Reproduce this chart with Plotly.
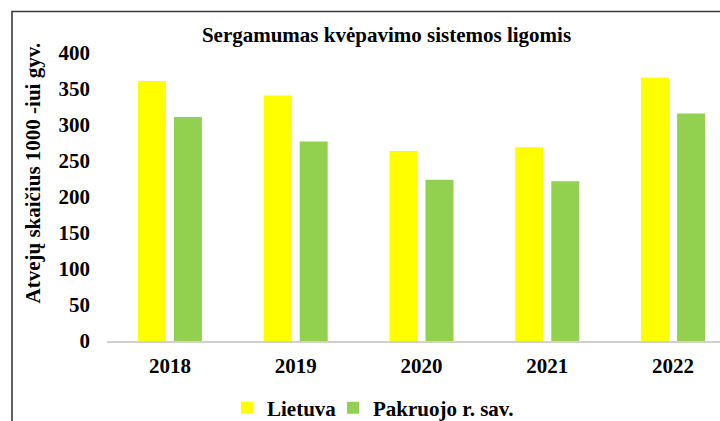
import plotly.graph_objects as go

# Respiratory disease incidence per 1000 population
years = ["2018", "2019", "2020", "2021", "2022"]
lietuva = [361, 341, 264, 269, 366]
pakruojo = [311, 277, 224, 222, 316]
series_names = ["Lietuva", "Pakruojo r. sav."]
chart_title = "Sergamumas kvėpavimo sistemos ligomis"
y_title = "Atvejų skaičius 1000 -iui gyv."
y_ticks = [0, 50, 100, 150, 200, 250, 300, 350, 400]

FONT = "Liberation Serif"
FS = 21
W, H = 720, 421
ML, MR, MT, MB = 107, 0, 53, 80

fig = go.Figure()
fig.add_trace(go.Bar(x=years, y=lietuva, name=series_names[0], legend="legend",
                     marker=dict(color="#FFFF00", line=dict(width=0))))
fig.add_trace(go.Bar(x=years, y=pakruojo, name=series_names[1], legend="legend2",
                     marker=dict(color="#92D050", line=dict(width=0))))

# outer chart frame (top and left edges visible)
pw = W - ML - MR
ph = H - MT - MB
def px_x(p):
    return (p - ML) / pw
def px_y(p):
    return (H - MB - p) / ph

fig.add_shape(type="rect", xref="paper", yref="paper",
              x0=px_x(12), x1=px_x(740), y0=px_y(440), y1=px_y(11.5),
              line=dict(color="#3a3a3a", width=1.6), fillcolor="rgba(0,0,0,0)",
              layer="above")

fig.add_annotation(text=f"<b>{y_title}</b>", textangle=-90,
                   xref="paper", yref="paper", x=px_x(32), y=px_y(173.5),
                   xanchor="center", yanchor="middle", showarrow=False,
                   font=dict(family=FONT, size=FS, color="#000000"))

legend_font = dict(family=FONT, size=FS, color="#000000", weight="bold")

fig.update_layout(
    width=W, height=H,
    margin=dict(l=ML, r=MR, t=MT, b=MB, pad=0),
    paper_bgcolor="white", plot_bgcolor="white",
    barmode="group", bargap=0.428, bargroupgap=0.222,
    title=dict(text=f"<b>{chart_title}</b>", x=386.5 / W, xanchor="center",
               y=1 - 35 / H, yanchor="middle", xref="container", yref="container",
               font=dict(family=FONT, size=FS, color="#000000")),
    font=dict(family=FONT, size=FS, color="#000000"),
    xaxis=dict(type="category", range=[-0.5, 4.5 - 16 / 125.8],
               showgrid=False, zeroline=False, showline=True,
               linecolor="#D0D0D0", linewidth=1.5, ticks="",
               tickfont=dict(family=FONT, size=FS, color="#000000", weight="bold"),
               ticklabelstandoff=5),
    yaxis=dict(range=[0, 400], tickvals=y_ticks, showgrid=False, zeroline=False,
               showline=False, ticks="",
               tickfont=dict(family=FONT, size=FS, color="#000000", weight="bold"),
               ticklabelstandoff=16),
    legend=dict(orientation="h", x=227 / W, y=1 - 408 / H, xref="container",
                yref="container", xanchor="left", yanchor="middle",
                font=legend_font, itemwidth=30, bgcolor="rgba(0,0,0,0)"),
    legend2=dict(orientation="h", x=333 / W, y=1 - 408 / H, xref="container",
                 yref="container", xanchor="left", yanchor="middle",
                 font=legend_font, itemwidth=30, bgcolor="rgba(0,0,0,0)"),
    showlegend=True,
)

fig.write_html("out.html")
